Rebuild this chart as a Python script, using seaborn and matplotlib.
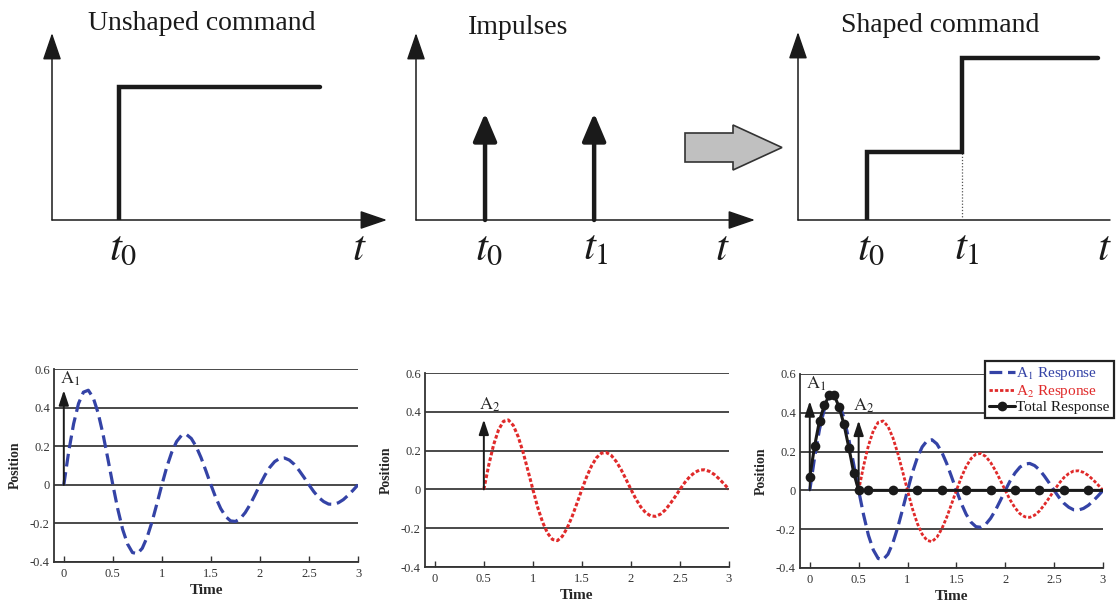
import numpy as np
import pandas as pd
import matplotlib
matplotlib.use("Agg")
import matplotlib.pyplot as plt
import matplotlib.patches as mpatches
import seaborn as sns

sns.set_theme(style="white")
plt.rcParams['font.family'] = ['Liberation Serif', 'DejaVu Serif']
plt.rcParams['mathtext.fontset'] = 'stix'

W, H = 1118, 605

# --- top row: command sketches (arbitrary units) ---
t0 = 1.0
unshaped_end = 4.0
unshaped_level = 1.0
impulse_times = [1.0, 2.58]
impulse_amps = [1.0, 1.0]
shaped_times = [1.0, 1.0, 2.38, 2.38, 4.35]
shaped_levels = [0.0, 0.42, 0.42, 1.0, 1.0]

# --- bottom row: responses ---
time = [round(0.05 * i, 2) for i in range(61)]
a1_response = [0.0, 0.172, 0.316, 0.421, 0.480, 0.490, 0.451, 0.372, 0.262, 0.133,
               0.0, -0.125, -0.231, -0.307, -0.351, -0.357, -0.329, -0.271, -0.191, -0.097,
               0.0, 0.092, 0.168, 0.224, 0.256, 0.261, 0.240, 0.198, 0.140, 0.071,
               0.0, -0.067, -0.123, -0.164, -0.187, -0.190, -0.175, -0.144, -0.102, -0.052,
               0.0, 0.049, 0.090, 0.120, 0.136, 0.139, 0.128, 0.106, 0.074, 0.038,
               0.0, -0.036, -0.066, -0.087, -0.100, -0.101, -0.093, -0.077, -0.054, -0.028,
               0.0]
a2_response = [0.0, 0.125, 0.231, 0.307, 0.351, 0.358, 0.330, 0.272, 0.192, 0.097,
               0.0, -0.094, -0.170, -0.226, -0.258, -0.264, -0.242, -0.199, -0.140, -0.071,
               0.0, 0.067, 0.123, 0.164, 0.187, 0.190, 0.175, 0.144, 0.102, 0.052,
               0.0, -0.049, -0.090, -0.120, -0.136, -0.139, -0.128, -0.106, -0.074, -0.038,
               0.0, 0.036, 0.066, 0.087, 0.100, 0.101, 0.093, 0.077, 0.054, 0.028,
               0.0]
total_time = [0.0, 0.05, 0.1, 0.15, 0.2, 0.25, 0.3, 0.35, 0.4, 0.45, 0.5,
              0.6, 0.85, 1.1, 1.35, 1.6, 1.85, 2.1, 2.35, 2.6, 2.85, 3.0]
total_response = [0.07, 0.23, 0.36, 0.44, 0.49, 0.49, 0.43, 0.34, 0.22, 0.09, 0.0,
                  0.0, 0.0, 0.0, 0.0, 0.0, 0.0, 0.0, 0.0, 0.0, 0.0, 0.0]
A1_amp, A2_amp = 0.49, 0.36
A2_time = 0.5

x_ticks = [0, 0.5, 1, 1.5, 2, 2.5, 3]
x_labels = ["0", "0.5", "1", "1.5", "2", "2.5", "3"]
y_ticks = [-0.4, -0.2, 0, 0.2, 0.4, 0.6]
y_labels = ["-0.4", "-0.2", "0", "0.2", "0.4", "0.6"]

BLUE = "#3443a6"
RED = "#e02a2a"

df_a1 = pd.DataFrame({"Time": time, "Position": a1_response})
df_a2 = pd.DataFrame({"Time": time[10:], "Position": a2_response})
df_tot = pd.DataFrame({"Time": total_time, "Position": total_response})


def box(l, t, r, b):
    return [l / W, 1 - b / H, (r - l) / W, (b - t) / H]


fig = plt.figure(figsize=(W / 100, H / 100), dpi=100)


def axis_arrows(ax, xmax, ymax, xhead=True):
    style = '-|>,head_length=1.05,head_width=0.36'
    ax.annotate('', xy=(0, ymax), xytext=(0, 0),
                arrowprops=dict(arrowstyle=style, color='k', lw=1.1,
                                mutation_scale=16, shrinkA=0, shrinkB=0))
    if xhead:
        ax.annotate('', xy=(xmax, 0), xytext=(0, 0),
                    arrowprops=dict(arrowstyle=style, color='k', lw=1.1,
                                    mutation_scale=16, shrinkA=0, shrinkB=0))
    else:
        ax.plot([0, xmax], [0, 0], color='k', lw=1.1, clip_on=False)


def t_label(ax, x, text, dx):
    ax.annotate(text, xy=(x, 0), xytext=(dx, -10), textcoords='offset pixels',
                ha='left', va='top', fontsize=31, color='k',
                annotation_clip=False)


# top-left: unshaped command
ax = fig.add_axes(box(52, 33, 387, 220))
ax.set_xlim(0, 5.0)
ax.set_ylim(0, 1.41)
ax.axis('off')
axis_arrows(ax, 5.0, 1.41)
sns.lineplot(x=[t0, t0, unshaped_end], y=[0, unshaped_level, unshaped_level],
             estimator=None, sort=False, color='k', lw=3.2, ax=ax,
             solid_joinstyle='miter', solid_capstyle='round')
t_label(ax, t0, r'$t_0$', -10)
t_label(ax, 5.0, r'$t$', -35)

# top-middle: impulses
ax = fig.add_axes(box(416, 33, 755, 220))
ax.set_xlim(0, 4.91)
ax.set_ylim(0, 1.75)
ax.axis('off')
axis_arrows(ax, 4.91, 1.75)
for ti, amp in zip(impulse_times, impulse_amps):
    ax.annotate('', xy=(ti, amp), xytext=(ti, 0),
                arrowprops=dict(arrowstyle='-|>,head_length=0.85,head_width=0.36',
                                color='k', lw=3.2, mutation_scale=20,
                                shrinkA=0, shrinkB=0))
t_label(ax, impulse_times[0], r'$t_0$', -10)
t_label(ax, impulse_times[1], r'$t_1$', -11)
t_label(ax, 4.91, r'$t$', -40)

# top-right: shaped command
ax = fig.add_axes(box(798, 32, 1110, 220))
ax.set_xlim(0, 4.52)
ax.set_ylim(0, 1.16)
ax.axis('off')
axis_arrows(ax, 4.52, 1.16, xhead=False)
ax.plot([shaped_times[2], shaped_times[2]], [0, shaped_levels[2]],
        color='#555', lw=0.9, ls=(0, (1, 1.5)))
sns.lineplot(x=shaped_times, y=shaped_levels, estimator=None, sort=False,
             color='k', lw=3.2, ax=ax, solid_joinstyle='miter',
             solid_capstyle='round')
t_label(ax, shaped_times[0], r'$t_0$', -10)
t_label(ax, shaped_times[2], r'$t_1$', -8)
t_label(ax, 4.52, r'$t$', -13)

# titles
for txt, x, y in [("Unshaped command", 202, 24), ("Impulses", 518, 28),
                  ("Shaped command", 940, 26)]:
    fig.text(x / W, 1 - y / H, txt, ha='center', va='center', fontsize=20,
             color='k')

# gray transition arrow
ov = fig.add_axes([0, 0, 1, 1])
ov.set_xlim(0, W)
ov.set_ylim(H, 0)
ov.axis('off')
ov.add_patch(mpatches.FancyArrow(685, 147.5, 97, 0, width=29, head_width=45,
                                 head_length=49, length_includes_head=True,
                                 fc='#c0c0c0', ec='#333333', lw=1.2))


def style_resp(ax):
    ax.set_xlim(-0.1, 3.0)
    ax.set_ylim(-0.4, 0.6)
    ax.set_xticks(x_ticks)
    ax.set_xticklabels(x_labels)
    ax.set_yticks(y_ticks)
    ax.set_yticklabels(y_labels)
    ax.tick_params(axis='x', direction='in', length=4, width=1, colors='#333',
                   labelsize=9, pad=4, bottom=True)
    ax.tick_params(axis='y', length=0, labelsize=9, pad=3, colors='#333')
    ax.grid(True, axis='y', color='#3a3a3a', lw=1.3)
    ax.set_axisbelow(True)
    for s in ['top', 'right']:
        ax.spines[s].set_visible(False)
    for s in ['left', 'bottom']:
        ax.spines[s].set_color('#333')
        ax.spines[s].set_linewidth(1.3)
    ax.set_xlabel('Time', fontsize=11, fontweight='bold', labelpad=3)
    ax.set_ylabel('Position', fontsize=10, fontweight='bold', labelpad=6)


def amp_arrow(ax, x, amp, label, tx, ty):
    ax.annotate('', xy=(x, amp), xytext=(x, 0),
                arrowprops=dict(arrowstyle='-|>,head_length=0.9,head_width=0.3',
                                color='k', lw=1.4, mutation_scale=10,
                                shrinkA=0, shrinkB=0))
    ax.text(tx, ty, label, fontsize=13, ha='left', va='bottom')


blue_ls = (0, (4, 1.8))
red_ls = (0, (1.2, 0.7))

# bottom-left
ax = fig.add_axes(box(54, 369, 358, 562))
sns.lineplot(data=df_a1, x="Time", y="Position", estimator=None, color=BLUE,
             lw=2.3, linestyle=blue_ls, ax=ax)
amp_arrow(ax, 0, A1_amp, r'$\mathrm{A}_1$', -0.04, 0.5)
style_resp(ax)

# bottom-middle
ax = fig.add_axes(box(425, 373, 729, 567))
sns.lineplot(data=df_a2, x="Time", y="Position", estimator=None, color=RED,
             lw=2.2, linestyle=red_ls, ax=ax)
amp_arrow(ax, A2_time, A2_amp, r'$\mathrm{A}_2$', 0.45, 0.39)
style_resp(ax)

# bottom-right
ax = fig.add_axes(box(800, 374, 1103, 568))
sns.lineplot(data=df_a1, x="Time", y="Position", estimator=None, color=BLUE,
             lw=2.3, linestyle=blue_ls, ax=ax, label=r'A$_1$ Response')
sns.lineplot(data=df_a2, x="Time", y="Position", estimator=None, color=RED,
             lw=2.0, linestyle=red_ls, ax=ax, label=r'A$_2$ Response')
sns.lineplot(data=df_tot, x="Time", y="Position", estimator=None, color='k',
             lw=2.2, marker='o', markersize=7, markeredgewidth=0,
             markevery=list(range(len(total_time) - 1)), ax=ax,
             label='Total Response')
amp_arrow(ax, 0, 0.46, r'$\mathrm{A}_1$', -0.04, 0.5)
amp_arrow(ax, A2_time, A2_amp, r'$\mathrm{A}_2$', 0.44, 0.39)
style_resp(ax)
leg = ax.legend(loc='upper right', bbox_to_anchor=(1.035, 1.065), fontsize=11,
                frameon=True, fancybox=False, framealpha=1, edgecolor='#222',
                borderpad=0.25, labelspacing=0.05, handlelength=1.7,
                handletextpad=0.1, borderaxespad=0)
leg.get_frame().set_linewidth(1.6)
for txt, c in zip(leg.get_texts(), [BLUE, RED, 'k']):
    txt.set_color(c)

fig.savefig("out.png", dpi=100)
